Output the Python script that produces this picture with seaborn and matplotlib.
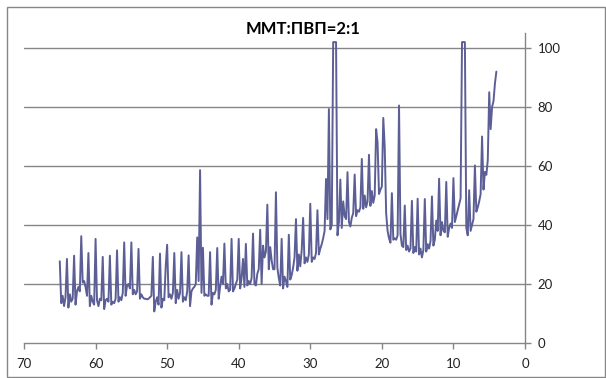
import matplotlib
matplotlib.use("Agg")
import matplotlib.pyplot as plt
from matplotlib.patches import Rectangle
import seaborn as sns
import pandas as pd

# Scan positions (2-theta, degrees), 0.2 deg steps from 65 down to 4
two_theta = [
    65.0, 64.8, 64.6, 64.4, 64.2, 64.0, 63.8, 63.6, 63.4, 63.2,
    63.0, 62.8, 62.6, 62.4, 62.2, 62.0, 61.8, 61.6, 61.4, 61.2,
    61.0, 60.8, 60.6, 60.4, 60.2, 60.0, 59.8, 59.6, 59.4, 59.2,
    59.0, 58.8, 58.6, 58.4, 58.2, 58.0, 57.8, 57.6, 57.4, 57.2,
    57.0, 56.8, 56.6, 56.4, 56.2, 56.0, 55.8, 55.6, 55.4, 55.2,
    55.0, 54.8, 54.6, 54.4, 54.2, 54.0, 53.8, 53.6, 53.4, 53.2,
    53.0, 52.8, 52.6, 52.4, 52.2, 52.0, 51.8, 51.6, 51.4, 51.2,
    51.0, 50.8, 50.6, 50.4, 50.2, 50.0, 49.8, 49.6, 49.4, 49.2,
    49.0, 48.8, 48.6, 48.4, 48.2, 48.0, 47.8, 47.6, 47.4, 47.2,
    47.0, 46.8, 46.6, 46.4, 46.2, 46.0, 45.8, 45.6, 45.4, 45.2,
    45.0, 44.8, 44.6, 44.4, 44.2, 44.0, 43.8, 43.6, 43.4, 43.2,
    43.0, 42.8, 42.6, 42.4, 42.2, 42.0, 41.8, 41.6, 41.4, 41.2,
    41.0, 40.8, 40.6, 40.4, 40.2, 40.0, 39.8, 39.6, 39.4, 39.2,
    39.0, 38.8, 38.6, 38.4, 38.2, 38.0, 37.8, 37.6, 37.4, 37.2,
    37.0, 36.8, 36.6, 36.4, 36.2, 36.0, 35.8, 35.6, 35.4, 35.2,
    35.0, 34.8, 34.6, 34.4, 34.2, 34.0, 33.8, 33.6, 33.4, 33.2,
    33.0, 32.8, 32.6, 32.4, 32.2, 32.0, 31.8, 31.6, 31.4, 31.2,
    31.0, 30.8, 30.6, 30.4, 30.2, 30.0, 29.8, 29.6, 29.4, 29.2,
    29.0, 28.8, 28.6, 28.4, 28.2, 28.0, 27.8, 27.6, 27.4, 27.2,
    27.0, 26.8, 26.6, 26.4, 26.2, 26.0, 25.8, 25.6, 25.4, 25.2,
    25.0, 24.8, 24.6, 24.4, 24.2, 24.0, 23.8, 23.6, 23.4, 23.2,
    23.0, 22.8, 22.6, 22.4, 22.2, 22.0, 21.8, 21.6, 21.4, 21.2,
    21.0, 20.8, 20.6, 20.4, 20.2, 20.0, 19.8, 19.6, 19.4, 19.2,
    19.0, 18.8, 18.6, 18.4, 18.2, 18.0, 17.8, 17.6, 17.4, 17.2,
    17.0, 16.8, 16.6, 16.4, 16.2, 16.0, 15.8, 15.6, 15.4, 15.2,
    15.0, 14.8, 14.6, 14.4, 14.2, 14.0, 13.8, 13.6, 13.4, 13.2,
    13.0, 12.8, 12.6, 12.4, 12.2, 12.0, 11.8, 11.6, 11.4, 11.2,
    11.0, 10.8, 10.6, 10.4, 10.2, 10.0, 9.8, 9.6, 9.4, 9.2,
    9.0, 8.8, 8.6, 8.4, 8.2, 8.0, 7.8, 7.6, 7.4, 7.2,
    7.0, 6.8, 6.6, 6.4, 6.2, 6.0, 5.8, 5.6, 5.4, 5.2,
    5.0, 4.8, 4.6, 4.4, 4.2, 4.0,
]

# Measured intensity at each position
intensity = [
    27.7, 13.5, 16.0, 12.5, 15.5, 28.5, 12.0, 16.5, 14.0, 15.0,
    29.6, 13.0, 17.5, 19.0, 17.5, 36.2, 20.5, 21.0, 19.0, 16.0,
    30.5, 12.5, 16.0, 14.0, 13.0, 35.3, 14.5, 12.5, 15.0, 14.5,
    29.2, 11.5, 14.5, 15.0, 14.0, 29.6, 13.0, 14.0, 13.5, 15.0,
    31.4, 14.0, 15.5, 14.5, 17.0, 34.1, 16.0, 19.5, 20.0, 18.5,
    34.1, 16.5, 18.0, 16.5, 17.5, 31.9, 15.0, 16.5, 15.5, 15.0,
    15.0, 14.8, 15.0, 15.5, 16.0, 29.2, 10.7, 14.0, 15.5, 13.0,
    30.3, 12.0, 15.0, 14.5, 26.0, 33.3, 15.5, 16.5, 15.0, 17.0,
    30.5, 13.5, 18.0, 15.0, 17.0, 30.8, 14.0, 15.5, 14.5, 17.5,
    29.7, 12.5, 17.5, 18.5, 19.0, 20.0, 35.8, 21.0, 58.6, 17.0,
    32.3, 16.0, 16.5, 16.0, 16.0, 30.8, 13.0, 17.0, 16.5, 18.0,
    32.2, 15.0, 19.0, 22.5, 20.0, 33.7, 18.5, 20.0, 17.5, 18.0,
    35.3, 17.5, 18.5, 20.0, 21.5, 35.3, 18.5, 22.0, 28.5, 19.0,
    33.6, 19.5, 21.0, 20.0, 22.0, 37.1, 20.0, 19.5, 23.5, 25.0,
    38.4, 20.0, 33.0, 29.0, 31.0, 46.9, 25.0, 32.5, 28.0, 25.0,
    25.0, 51.1, 25.5, 22.0, 19.5, 35.3, 18.5, 22.5, 21.0, 19.0,
    36.7, 21.5, 23.0, 25.5, 29.0, 42.0, 24.5, 30.0, 26.0, 31.5,
    42.4, 27.0, 29.0, 27.5, 30.0, 47.2, 27.5, 29.0, 28.5, 30.5,
    45.0, 30.0, 32.0, 33.5, 35.5, 38.0, 55.6, 42.0, 79.3, 38.5,
    40.0, 102.0, 102.0, 102.0, 36.5, 41.0, 55.4, 39.0, 48.0, 43.0,
    42.0, 57.9, 41.0, 39.5, 42.5, 44.0, 57.1, 43.0, 45.0, 44.5,
    46.0, 62.4, 45.5, 50.0, 46.0, 48.0, 63.8, 46.5, 51.5, 47.5,
    50.0, 72.5, 68.0, 50.5, 52.0, 53.0, 76.3, 66.5, 44.0, 38.0,
    35.5, 34.0, 50.8, 35.0, 35.5, 35.0, 36.5, 80.5, 37.0, 33.0,
    32.5, 46.6, 31.5, 33.0, 31.0, 32.0, 48.2, 30.5, 32.5, 31.0,
    48.9, 30.0, 32.0, 29.0, 31.5, 48.8, 31.0, 33.5, 32.0, 34.5,
    49.7, 33.0, 35.0, 41.5, 38.0, 55.7, 36.5, 41.0, 38.0, 37.5,
    54.6, 36.0, 39.0, 40.5, 39.0, 55.9, 41.0, 43.0, 45.0, 47.0,
    49.0, 102.0, 102.0, 102.0, 39.0, 36.5, 51.8, 38.0, 40.0, 42.0,
    60.2, 44.5, 46.0, 48.0, 50.5, 70.0, 52.0, 58.0, 57.0, 62.0,
    85.0, 72.5, 80.0, 82.0, 88.0, 92.0,
]

title = "ММТ:ПВП=2:1"
x_ticks = [70, 60, 50, 40, 30, 20, 10, 0]
y_ticks = [0, 20, 40, 60, 80, 100]

df = pd.DataFrame({"two_theta": two_theta, "intensity": intensity})

sns.set_theme(style="white")
plt.rcParams["font.family"] = ["Lato", "DejaVu Sans"]

W, H = 606, 378
fig = plt.figure(figsize=(W / 100, H / 100), dpi=100)
ax = fig.add_axes([24 / W, 1 - 343 / H, (525 - 24) / W, (343 - 33.25) / H])

grid_c = "#868686"
line_c = "#5C5E96"

sns.lineplot(data=df, x="two_theta", y="intensity", sort=False, estimator=None,
             color=line_c, linewidth=1.4, ax=ax)

ax.set_xlim(70, 0)
ax.set_ylim(0, 105)
ax.set_xticks(x_ticks)
ax.set_yticks(y_ticks)
ax.set_xlabel("")
ax.set_ylabel("")

for v in y_ticks[1:]:
    ax.axhline(v, color=grid_c, linewidth=1.0, zorder=0)

for side in ["top", "left"]:
    ax.spines[side].set_visible(False)
for side in ["bottom", "right"]:
    ax.spines[side].set_visible(True)
    ax.spines[side].set_color(grid_c)
    ax.spines[side].set_linewidth(1.0)

ax.yaxis.tick_right()
ax.tick_params(axis="x", direction="out", length=4, width=1, color=grid_c,
               labelsize=9.5, labelcolor="#222222", pad=7, bottom=True)
ax.tick_params(axis="y", direction="out", length=4, width=1, color=grid_c,
               labelsize=9.5, labelcolor="#222222", pad=5, right=True, left=False)

fig.text(0.5, 1 - 29 / H, title, ha="center", va="center",
         fontsize=12, fontweight="bold", color="#000000")

# Outer chart frame
fig.patches.append(Rectangle((7 / W, 1 / H), (W - 8) / W, (H - 8) / H,
                             transform=fig.transFigure, fill=False,
                             edgecolor=grid_c, linewidth=1.0))

fig.savefig("out.png", dpi=100)
